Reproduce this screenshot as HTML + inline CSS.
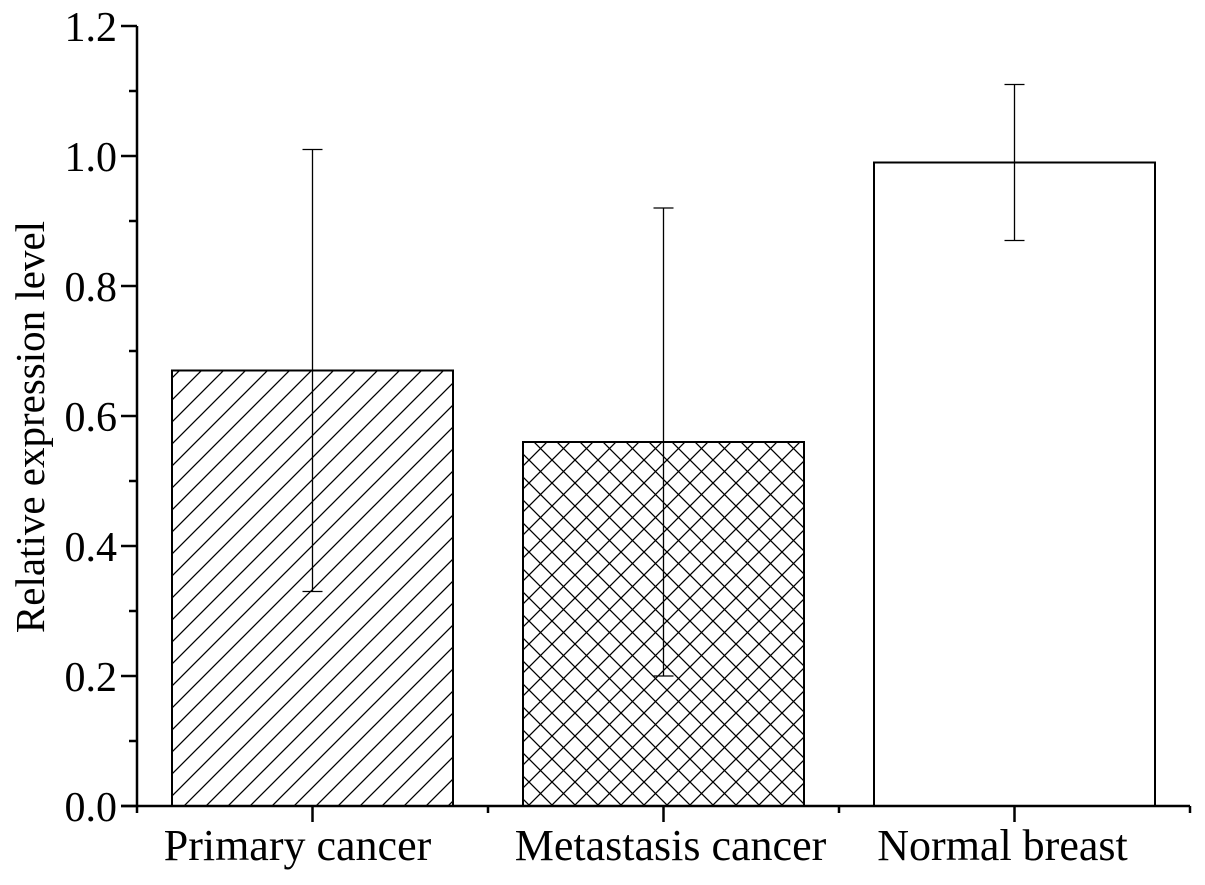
<!DOCTYPE html>
<html><head><meta charset="utf-8"><style>
body{margin:0;background:#fff}
svg text{font-family:"Liberation Serif",serif;fill:#000}
</style></head><body>
<svg id="chart" width="1205" height="880" xmlns="http://www.w3.org/2000/svg">
<defs>
<pattern id="diag" patternUnits="userSpaceOnUse" width="22" height="22">
<path d="M-2,2 l4,-4 M0,22 l22,-22 M20,24 l4,-4" stroke="#000" stroke-width="1.3"/>
</pattern>
<pattern id="cross" patternUnits="userSpaceOnUse" width="23" height="23">
<path d="M-2,2 l4,-4 M0,23 l23,-23 M21,25 l4,-4 M-2,21 l4,4 M0,0 l23,23 M21,-2 l4,4" stroke="#000" stroke-width="1.3"/>
</pattern>
</defs>
<g id="plot"></g>
</svg>
<script>
const categories=["Primary cancer","Metastasis cancer","Normal breast"];
const values=[0.67,0.56,0.99];
const errLow=[0.33,0.20,0.87];
const errHigh=[1.01,0.92,1.11];
const fills=["url(#diag)","url(#cross)","none"];
const yTicks=[0,0.2,0.4,0.6,0.8,1.0,1.2];
const yTickLabels=["0.0","0.2","0.4","0.6","0.8","1.0","1.2"];
const NS="http://www.w3.org/2000/svg";
const g=document.getElementById('plot');
const X0=137,X1=1190,Y0=806,Y1=26;
const y=v=>Y0-(v/1.2)*(Y0-Y1);
const step=(X1-X0)/categories.length;
const x=i=>X0+step*(i+0.5);
const bw=281;
const labelShift=[-15,7,-12];
function el(t,a){const e=document.createElementNS(NS,t);for(const k in a)e.setAttribute(k,a[k]);g.appendChild(e);return e;}
categories.forEach((c,i)=>{
 let r=el('rect',{x:x(i)-bw/2,y:y(values[i]),width:bw,height:Y0-y(values[i]),fill:fills[i]==="none"?"#fff":fills[i],stroke:"#000","stroke-width":2});
 
 
 let e=el('path',{d:`M${x(i)},${y(errLow[i])}V${y(errHigh[i])}M${x(i)-10},${y(errLow[i])}h20M${x(i)-10},${y(errHigh[i])}h20`,stroke:"#000","stroke-width":1.3,fill:"none"});
 
 
 let t=el('text',{x:x(i)+labelShift[i],y:860,"font-size":44,"text-anchor":"middle"});t.textContent=c;
 
 
 el('line',{x1:x(i),x2:x(i),y1:Y0,y2:822,stroke:"#000","stroke-width":2.5});
});
for(let k=0;k<=categories.length;k++){el('line',{x1:X0+step*k,x2:X0+step*k,y1:Y0,y2:813,stroke:"#000","stroke-width":2.5});}
yTicks.forEach((v,i)=>{
 el('line',{x1:121,x2:X0,y1:y(v),y2:y(v),stroke:"#000","stroke-width":2.5});
 if(i<yTicks.length-1){const m=(v+yTicks[i+1])/2;el('line',{x1:129,x2:X0,y1:y(m),y2:y(m),stroke:"#000","stroke-width":2.5});}
 let t=el('text',{x:117,y:y(v)+15,"font-size":42,"text-anchor":"end"});t.textContent=yTickLabels[i];
 
 
});
let ax=el('path',{d:`M${X0},${Y1}V${Y0}M121,${Y0}H${X1}`,stroke:"#000","stroke-width":2.5,fill:"none"});


let yt=el('text',{x:0,y:0,"font-size":41,"text-anchor":"middle",transform:"translate(44,427) rotate(-90)"});yt.textContent="Relative expression level";


</script>
</body></html>
